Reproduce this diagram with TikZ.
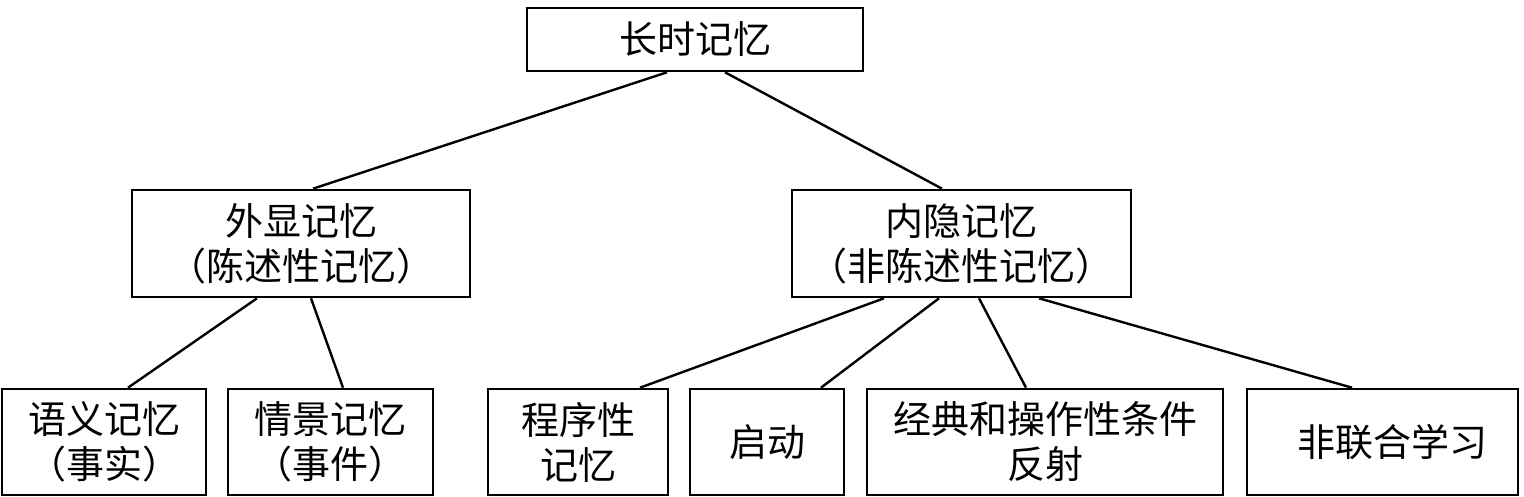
\documentclass[tikz,border=0pt]{standalone}
\usepackage{fontspec}
\newfontfamily\cjk{Noto Sans CJK SC}
\usetikzlibrary{calc}
\begin{document}
\begin{tikzpicture}[x=1pt,y=-1pt,
  box/.style={draw, line width=2.6pt, inner sep=0pt, align=center,
    font=\cjk\fontsize{38}{45}\selectfont},
  link/.style={line width=2.4pt}]
\useasboundingbox (0,0) rectangle (1524,497);
\node[box, minimum width=336pt, minimum height=63pt] (top) at (695,39.5) {长时记忆};
\node[box, minimum width=338pt, minimum height=107pt] (wx) at (301,243.5) {外显记忆\\（陈述性记忆）};
\node[box, minimum width=339pt, minimum height=107pt] (nx) at (961.5,243.5) {内隐记忆\\（非陈述性记忆）};
\node[box, minimum width=204pt, minimum height=106pt] (yy) at (104,442) {语义记忆\\（事实）};
\node[box, minimum width=205pt, minimum height=106pt] (qj) at (330.5,442) {情景记忆\\（事件）};
\node[box, minimum width=180pt, minimum height=106pt] (cx) at (578,442) {程序性\\记忆};
\node[box, minimum width=154pt, minimum height=106pt] (qd) at (767,442) {启动};
\node[box, minimum width=356pt, minimum height=106pt] (jd) at (1045,442) {经典和操作性条件\\反射};
\node[box, minimum width=271pt, minimum height=106pt, text width=271pt] (fl) at (1382.5,442) {\hspace*{20pt}非联合学习};
\draw[link] ([xshift=-28pt]top.south) -- ([xshift=12pt]wx.north);
\draw[link] ([xshift=30pt]top.south) -- ([xshift=-19.5pt]nx.north);
\draw[link] ([xshift=-44pt]wx.south) -- ([xshift=24pt]yy.north);
\draw[link] ([xshift=10pt]wx.south) -- ([xshift=12.5pt]qj.north);
\draw[link] ([xshift=-77.5pt]nx.south) -- ([xshift=62pt]cx.north);
\draw[link] ([xshift=-22.5pt]nx.south) -- ([xshift=54pt]qd.north);
\draw[link] ([xshift=17.5pt]nx.south) -- ([xshift=-19pt]jd.north);
\draw[link] ([xshift=77.5pt]nx.south) -- ([xshift=-30.5pt]fl.north);
\end{tikzpicture}
\end{document}
